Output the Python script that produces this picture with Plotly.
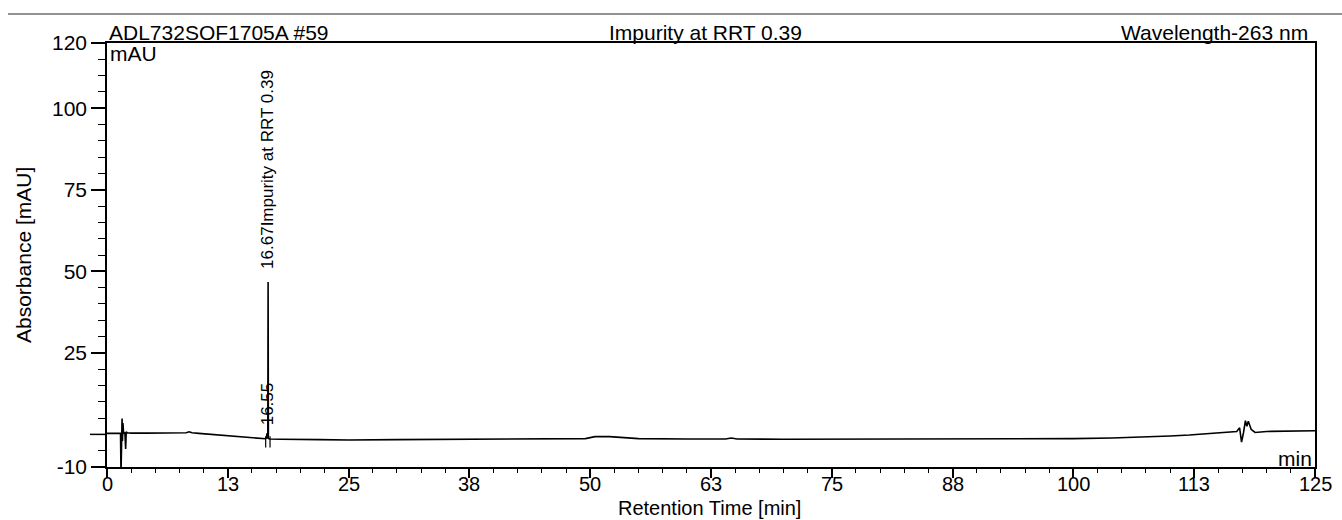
import plotly.graph_objects as go

# Chromatogram trace: retention time (min) and absorbance (mAU)
time_min = [
    0.0, 1.0, 1.40, 1.45, 1.50, 1.56, 1.60, 1.65, 1.72, 1.85, 1.93, 1.99, 2.1, 2.5,
    4.0, 6.0, 7.5, 8.2, 8.5, 8.8, 9.5, 11.0, 13.0, 15.0, 16.0, 16.4, 16.5, 16.55,
    16.6, 16.64, 16.67, 16.70, 16.8, 18.0, 22.0, 25.0, 30.0, 35.0, 40.0, 45.0,
    48.0, 49.5, 50.5, 52.0, 53.5, 55.0, 60.0, 64.0, 64.6, 65.2, 70.0, 75.0, 80.0,
    85.0, 90.0, 95.0, 100.0, 104.0, 107.0, 110.0, 112.0, 114.0, 115.0, 116.0,
    116.9, 117.2, 117.4, 117.6, 117.8, 117.95, 118.1, 118.4, 118.8, 120.0, 122.0,
    125.0,
]
absorbance_mau = [
    0.3, 0.3, 0.3, -12.0, 2.0, 4.9, -2.0, 3.5, 0.2, 0.6, -4.5, 0.8, 0.5, 0.4,
    0.4, 0.4, 0.45, 0.5, 0.8, 0.5, 0.3, -0.1, -0.5, -1.0, -1.3, -1.35, -1.1, 0.3,
    -1.2, -1.0, 46.7, -1.2, -1.4, -1.5, -1.6, -1.7, -1.6, -1.5, -1.5, -1.4,
    -1.4, -1.3, -0.7, -0.7, -1.0, -1.3, -1.4, -1.4, -1.1, -1.4, -1.5, -1.5, -1.5,
    -1.5, -1.5, -1.4, -1.3, -1.1, -0.9, -0.5, -0.2, 0.3, 0.6, 0.8,
    0.9, 2.0, -2.4, 0.5, 4.2, 2.5, 4.0, 1.5, 0.6, 0.9, 1.0,
    1.1,
]

# Integrated peaks
peak_times = [16.55, 16.67]
peak_heights = [0.3, 46.7]
peak_names = ["16.55", "16.67Impurity at RRT 0.39"]

# Peak delimiter marks (start / end of integration)
delimiter_times = [16.42, 16.87]
delimiter_top = -0.6
delimiter_bottom = -4.0

# Axis ticks
x_tick_values = [0, 12.5, 25, 37.5, 50, 62.5, 75, 87.5, 100, 112.5, 125]
x_tick_labels = ["0", "13", "25", "38", "50", "63", "75", "88", "100", "113", "125"]
y_tick_values = [-10, 25, 50, 75, 100, 120]
y_tick_labels = ["-10", "25", "50", "75", "100", "120"]

FONT = "Liberation Sans, Arial, Helvetica, sans-serif"
TEXT_SIZE = 21

fig = go.Figure()

fig.add_trace(go.Scatter(
    x=time_min, y=absorbance_mau, mode="lines",
    line=dict(color="black", width=1.6), hoverinfo="skip", showlegend=False,
))

dx, dy = [], []
for t in delimiter_times:
    dx += [t, t, None]
    dy += [delimiter_top, delimiter_bottom, None]
fig.add_trace(go.Scatter(
    x=dx, y=dy, mode="lines", line=dict(color="black", width=1.2),
    hoverinfo="skip", showlegend=False,
))

annotations = []
# Peak labels, rotated, just above each peak apex
for t, h, name in zip(peak_times, peak_heights, peak_names):
    annotations.append(dict(
        x=t, y=h + (3.3 if h > 5 else 2.0), xref="x", yref="y", text=name,
        textangle=-90, showarrow=False, xanchor="center", yanchor="bottom",
        font=dict(family=FONT, size=17, color="black"),
    ))

# Time-axis tick labels, set close under the tick marks
for val, lab in zip(x_tick_values, x_tick_labels):
    annotations.append(dict(
        x=val, y=(467 - 484) / 424, xref="x", yref="paper", text=lab,
        showarrow=False, xanchor="center", yanchor="middle", borderpad=0,
        font=dict(family=FONT, size=20, color="black"),
    ))

header_y = 1.024
annotations += [
    dict(x=0.0, y=header_y, xref="paper", yref="paper", text="ADL732SOF1705A #59",
         showarrow=False, xanchor="left", yanchor="middle", xshift=0,
         font=dict(family=FONT, size=TEXT_SIZE, color="black")),
    dict(x=(705 - 107) / 1208, y=header_y, xref="paper", yref="paper",
         text="Impurity at RRT 0.39", showarrow=False, xanchor="center",
         yanchor="middle", font=dict(family=FONT, size=TEXT_SIZE, color="black")),
    dict(x=(1310 - 107) / 1208, y=header_y, xref="paper", yref="paper",
         text="Wavelength-263 nm", showarrow=False, xanchor="right",
         yanchor="middle", font=dict(family=FONT, size=TEXT_SIZE, color="black")),
    dict(x=0.0, y=(467 - 54) / 424, xref="paper", yref="paper", text="mAU",
         showarrow=False, xanchor="left", yanchor="middle", xshift=1,
         font=dict(family=FONT, size=TEXT_SIZE, color="black")),
    dict(x=1.0, y=(467 - 458) / 424, xref="paper", yref="paper", text="min",
         showarrow=False, xanchor="right", yanchor="middle", xshift=-1,
         font=dict(family=FONT, size=TEXT_SIZE, color="black")),
    dict(x=(709 - 107) / 1208, y=(467 - 520) / 424, xref="paper", yref="paper",
         text="Retention Time [min]", showarrow=False, xanchor="center",
         yanchor="bottom", borderpad=0,
         font=dict(family=FONT, size=20, color="black")),
    dict(x=(23 - 107) / 1208, y=(467 - 255) / 424, xref="paper", yref="paper",
         text="Absorbance [mAU]", showarrow=False, xanchor="center",
         yanchor="middle", textangle=-90,
         font=dict(family=FONT, size=TEXT_SIZE, color="black")),
]

shapes = [
    # zero-level marker on the signal axis
    dict(type="line", xref="paper", yref="y", x0=-17 / 1208, x1=0, y0=0, y1=0,
         line=dict(color="black", width=1.5)),
    # page rule above the header
    dict(type="line", xref="paper", yref="paper", x0=(8 - 107) / 1208,
         x1=(1342 - 107) / 1208, y0=(467 - 14) / 424, y1=(467 - 14) / 424,
         line=dict(color="#6e6e6e", width=1.5)),
]

fig.update_layout(
    width=1342, height=520,
    margin=dict(l=107, r=27, t=43, b=53),
    paper_bgcolor="white", plot_bgcolor="white",
    font=dict(family=FONT, size=TEXT_SIZE, color="black"),
    annotations=annotations, shapes=shapes, showlegend=False,
)

fig.update_xaxes(
    range=[0, 125], tickmode="array", tickvals=x_tick_values,
    showticklabels=False,
    ticks="outside", ticklen=9, tickwidth=1.5, tickcolor="black",
    showline=True, linecolor="black", linewidth=1.6, mirror=True,
    showgrid=False, zeroline=False,
    minor=dict(tickmode="linear", tick0=0, dtick=2.5, ticks="outside", ticklen=4,
               tickwidth=1.2, tickcolor="black", showgrid=False),
)
fig.update_yaxes(
    range=[-10, 120], tickmode="array", tickvals=y_tick_values, ticktext=y_tick_labels,
    ticks="outside", ticklen=14, tickwidth=1.5, tickcolor="black",
    showline=True, linecolor="black", linewidth=1.6, mirror=True,
    showgrid=False, zeroline=False, tickfont=dict(family=FONT, size=TEXT_SIZE),
    minor=dict(tickmode="linear", tick0=0, dtick=5, ticks="outside", ticklen=7,
               tickwidth=1.2, tickcolor="black", showgrid=False),
)

fig.write_html("out.html")
